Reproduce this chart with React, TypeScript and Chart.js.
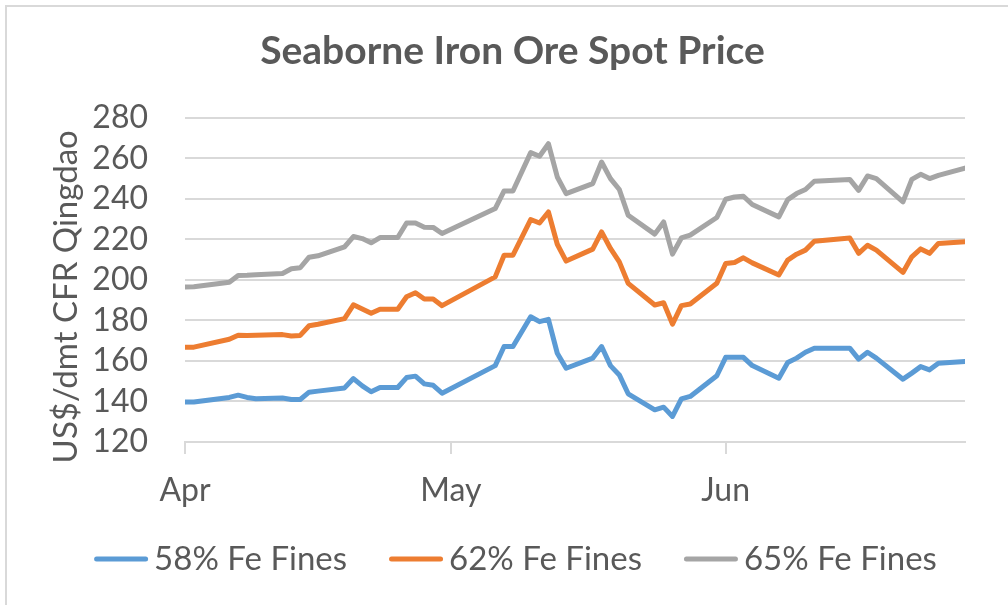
import React, { useEffect, useRef } from 'react';
import { Chart, registerables } from 'chart.js';

Chart.register(...registerables);

// Chinese trading days, April – June 2021
const dates = [
  '2021-04-01', '2021-04-02', '2021-04-06', '2021-04-07', '2021-04-08', '2021-04-09',
  '2021-04-12', '2021-04-13', '2021-04-14', '2021-04-15', '2021-04-16',
  '2021-04-19', '2021-04-20', '2021-04-21', '2021-04-22', '2021-04-23',
  '2021-04-25', '2021-04-26', '2021-04-27', '2021-04-28', '2021-04-29', '2021-04-30',
  '2021-05-06', '2021-05-07', '2021-05-08',
  '2021-05-10', '2021-05-11', '2021-05-12', '2021-05-13', '2021-05-14',
  '2021-05-17', '2021-05-18', '2021-05-19', '2021-05-20', '2021-05-21',
  '2021-05-24', '2021-05-25', '2021-05-26', '2021-05-27', '2021-05-28',
  '2021-05-31', '2021-06-01', '2021-06-02', '2021-06-03', '2021-06-04',
  '2021-06-07', '2021-06-08', '2021-06-09', '2021-06-10', '2021-06-11',
  '2021-06-15', '2021-06-16', '2021-06-17', '2021-06-18',
  '2021-06-21', '2021-06-22', '2021-06-23', '2021-06-24', '2021-06-25',
  '2021-06-28',
];

const fe58 = [
  139.7, 139.7, 142.0, 143.1, 142.0, 141.3, 141.7, 141.0, 141.0, 144.6, 145.1,
  146.7, 151.3, 147.7, 144.8, 146.9, 146.9, 151.8, 152.5, 148.7, 148.0, 144.1,
  157.7, 167.1, 167.1, 181.8, 179.4, 180.5, 163.8, 156.4, 161.4, 167.1, 157.7,
  153.1, 143.8, 135.9, 137.2, 132.6, 141.3, 142.5, 152.7,
  161.8, 161.8, 161.8, 157.7, 151.5, 159.2, 161.4, 164.3, 166.3, 166.3, 160.9,
  164.3, 161.4, 151.0, 154.0, 157.2, 155.6, 158.9, 159.7,
];

const fe62 = [
  166.8, 166.8, 170.7, 172.7, 172.6, 172.7, 173.0, 172.3, 172.6, 177.4, 178.1,
  180.9, 187.7, 185.6, 183.5, 185.5, 185.5, 191.7, 193.7, 190.6, 190.6, 187.3,
  201.5, 212.2, 212.2, 229.8, 228.1, 233.5, 217.6, 209.3, 215.2, 223.7, 215.5,
  208.9, 198.3, 187.6, 188.7, 178.2, 187.3, 188.1, 198.3,
  208.1, 208.6, 210.9, 208.4, 202.4, 209.8, 212.7, 214.7, 219.1, 220.7, 213.1,
  217.1, 214.7, 203.7, 211.4, 215.3, 213.1, 218.0, 218.8,
];

const fe65 = [
  196.5, 196.6, 198.8, 202.2, 202.3, 202.6, 203.2, 205.5, 206.0, 211.2, 211.9,
  216.3, 221.4, 220.4, 218.3, 220.9, 220.9, 228.1, 228.1, 226.0, 225.9, 222.9,
  235.2, 243.9, 243.9, 262.8, 261.0, 267.2, 250.8, 242.6, 247.5, 258.2, 250.0,
  244.6, 231.9, 222.6, 228.6, 212.7, 220.7, 222.1, 230.8,
  239.8, 240.9, 241.3, 237.2, 231.1, 239.6, 242.6, 244.6, 248.7, 249.6, 244.2,
  251.3, 250.0, 238.5, 249.6, 252.1, 250.0, 251.6, 255.2,
];

const seriesNames = ['58% Fe Fines', '62% Fe Fines', '65% Fe Fines'];
const seriesColors = ['#5B9BD5', '#ED7D31', '#A5A5A5'];
const monthTickDates = ['2021-04-01', '2021-05-01', '2021-06-01'];
const monthLabels = ['Apr', 'May', 'Jun'];
const yMin = 120;
const yMax = 280;
const yStep = 20;

const TITLE = 'Seaborne Iron Ore Spot Price';
const Y_TITLE = 'US$/dmt CFR Qingdao';
const TEXT = '#595959';
const GRID = '#D9D9D9';
const FONT = 'Lato';

const DAY = 86400000;
const origin = Date.parse(dates[0]);
const toDay = (d: string) => Math.round((Date.parse(d) - origin) / DAY);
const monthTickValues = monthTickDates.map(toDay);
const xMax = toDay(dates[dates.length - 1]);

const PAD_LEFT = 60;
const PLOT_LEFT = 185;

const legendPlugin = {
  id: 'customLegend',
  afterDraw(chart: any) {
    const ctx = chart.ctx;
    ctx.save();
    ctx.font = `33px ${FONT}`;
    ctx.textBaseline = 'middle';
    ctx.textAlign = 'left';
    const lineW = 54;
    const gapText = 6;
    const gapItem = 42;
    const items = chart.data.datasets.map((ds: any) => ({
      label: ds.label,
      color: ds.borderColor,
      w: ctx.measureText(ds.label).width,
    }));
    const total = items.reduce((s: number, it: any) => s + lineW + gapText + it.w, 0) + gapItem * (items.length - 1);
    let x = 515.5 - total / 2;
    const y = 559;
    items.forEach((it: any) => {
      ctx.strokeStyle = it.color;
      ctx.lineWidth = 5;
      ctx.lineCap = 'round';
      ctx.beginPath();
      ctx.moveTo(x + 2.5, y);
      ctx.lineTo(x + lineW - 2.5, y);
      ctx.stroke();
      ctx.fillStyle = TEXT;
      ctx.fillText(it.label, x + lineW + gapText, y);
      x += lineW + gapText + it.w + gapItem;
    });
    ctx.restore();
  },
};

export default function App() {
  const ref = useRef<HTMLCanvasElement | null>(null);

  useEffect(() => {
    if (!ref.current) return;
    const series = [fe58, fe62, fe65];
    const chart = new Chart(ref.current, {
      type: 'line',
      data: {
        datasets: series.map((vals, i) => ({
          label: seriesNames[i],
          data: vals.map((v, j) => ({ x: toDay(dates[j]), y: v })),
          borderColor: seriesColors[i],
          backgroundColor: seriesColors[i],
          borderWidth: 5,
          pointRadius: 0,
          tension: 0,
          borderJoinStyle: 'round',
          borderCapStyle: 'round',
          fill: false,
        })),
      },
      options: {
        responsive: false,
        animation: false,
        devicePixelRatio: 1,
        layout: { padding: { left: PAD_LEFT, right: 43, top: 0, bottom: 70 } },
        plugins: {
          title: {
            display: true,
            text: TITLE,
            color: TEXT,
            font: { family: FONT, size: 39, weight: 'bold' },
            padding: { top: 28, bottom: 43 },
          },
          legend: { display: false },
          tooltip: { enabled: false },
        },
        scales: {
          x: {
            type: 'linear',
            min: 0,
            max: xMax,
            afterBuildTicks: (s: any) => {
              s.ticks = monthTickValues.map((v) => ({ value: v }));
            },
            afterFit: (s: any) => {
              s.height = 93;
            },
            ticks: {
              autoSkip: false,
              maxRotation: 0,
              color: TEXT,
              font: { family: FONT, size: 32 },
              padding: 17,
              callback: (v: any) => {
                const k = monthTickValues.indexOf(Number(v));
                return k >= 0 ? monthLabels[k] : '';
              },
            },
            grid: { drawOnChartArea: false, drawTicks: true, tickLength: 12, color: GRID, lineWidth: 2 },
            border: { color: GRID, width: 2 },
          },
          y: {
            min: yMin,
            max: yMax,
            afterFit: (s: any) => {
              s.width = PLOT_LEFT - PAD_LEFT;
            },
            ticks: {
              stepSize: yStep,
              autoSkip: false,
              color: TEXT,
              font: { family: FONT, size: 32 },
              padding: 37,
            },
            grid: { color: GRID, lineWidth: 2, drawTicks: false },
            border: { display: false },
            title: {
              display: true,
              text: Y_TITLE + '    ',
              color: TEXT,
              font: { family: FONT, size: 33 },
              padding: { top: 47 - PAD_LEFT, bottom: 0 },
            },
          },
        },
      },
      plugins: [legendPlugin],
    } as any);
    return () => chart.destroy();
  }, []);

  return (
    <div style={{ position: 'fixed', left: 0, top: 0, width: 1008, height: 605, background: '#fff', overflow: 'hidden' }}>
      <div
        style={{
          position: 'absolute',
          left: 5,
          top: 5,
          right: -10,
          bottom: -10,
          borderLeft: `2px solid ${GRID}`,
          borderTop: `2px solid ${GRID}`,
        }}
      />
      <canvas ref={ref} width={1008} height={605} style={{ position: 'absolute', left: 0, top: 0, width: 1008, height: 605 }} />
    </div>
  );
}
